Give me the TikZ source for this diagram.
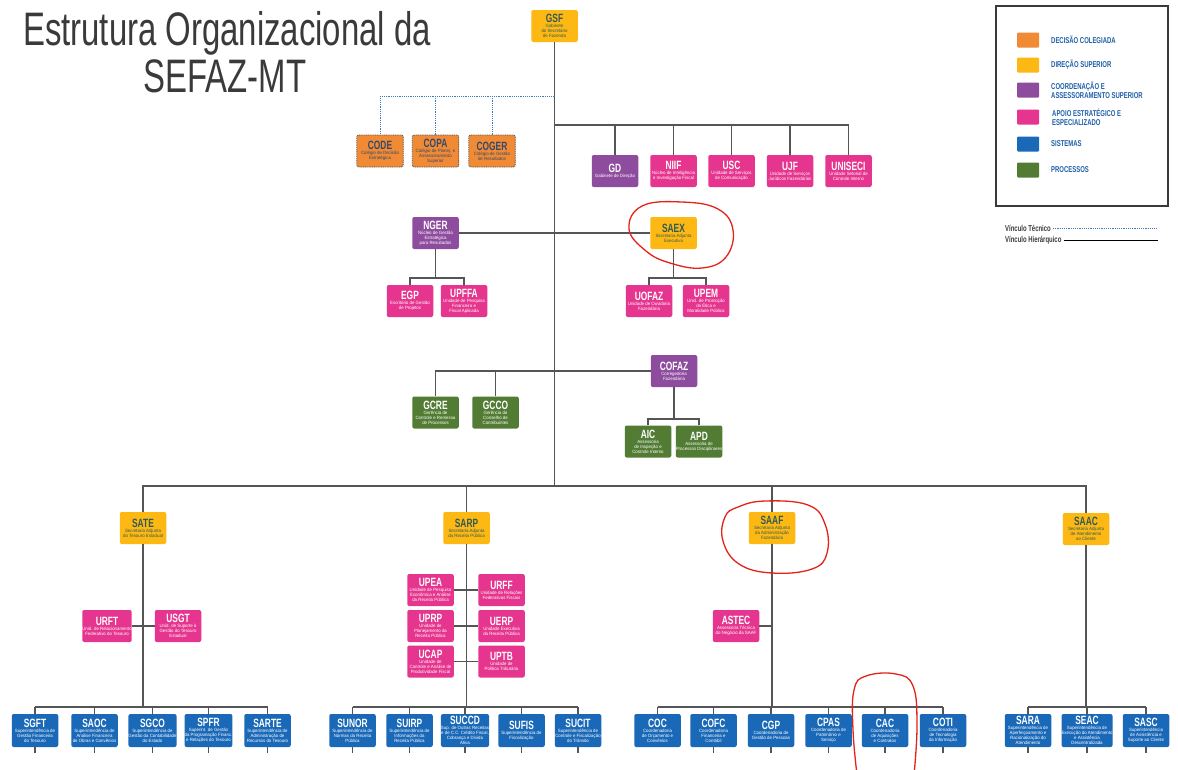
\documentclass[tikz,border=0pt]{standalone}
\usepackage{fontspec}
\setmainfont{Liberation Sans}[FakeStretch=0.7]
\newfontfamily\subf{Liberation Sans}[FakeStretch=0.95]
\usetikzlibrary{calc}
\definecolor{cgold}{HTML}{FDB813}
\definecolor{corange}{HTML}{F08A35}
\definecolor{cpurple}{HTML}{8E4C9E}
\definecolor{cpink}{HTML}{E6358E}
\definecolor{cblue}{HTML}{1A69B8}
\definecolor{cgreen}{HTML}{527C34}
\definecolor{cline}{HTML}{555555}
\definecolor{ctech}{HTML}{3C7BB8}
\definecolor{cgoldtxt}{HTML}{2F5B58}
\definecolor{corangetxt}{HTML}{34496B}
\definecolor{clegtxt}{HTML}{1F5FA8}
\definecolor{cred}{HTML}{E2231A}
\definecolor{ctitle}{HTML}{3A3A3A}
\newcommand\ttl[1]{{\rmfamily\bfseries\fontsize{12}{12}\selectfont #1}}
\tikzset{
  unit/.style={rectangle, rounded corners=2pt, minimum width=46.5, minimum height=32, inner sep=0pt, align=center, font=\subf\fontsize{4.6}{5}\selectfont, text=white},
  goldu/.style={unit, fill=cgold, text=cgoldtxt},
  orangeu/.style={unit, fill=corange, text=corangetxt, draw=cline, line width=0.8pt, dash pattern=on 1pt off 0.8pt},
  purpleu/.style={unit, fill=cpurple},
  pinku/.style={unit, fill=cpink},
  greenu/.style={unit, fill=cgreen},
  blueu/.style={unit, fill=cblue, minimum height=33},
  hier/.style={draw=cline, line width=1.15pt},
  tech/.style={draw=ctech, line width=1pt, dash pattern=on 1.2pt off 1pt},
  swatch/.style={rectangle, rounded corners=1pt, minimum width=22, minimum height=15, inner sep=0pt},
  leglab/.style={anchor=west, align=left, inner sep=0pt, text=clegtxt, font=\bfseries\fontsize{8.5}{9}\selectfont},
  vinc/.style={anchor=west, inner sep=0pt, text=ctitle, font=\bfseries\fontsize{8.5}{9}\selectfont},
  titletext/.style={anchor=base, inner sep=0pt, text=ctitle, font=\fontsize{47}{49}\selectfont},
  annot/.style={draw=cred, line width=1.3pt}
}
\begin{document}
\begin{tikzpicture}[x=1pt, y=-1pt]
\useasboundingbox[fill=white] (0,0) rectangle (1178,769);
\clip (0,0) rectangle (1178,769);

% Title
\node[titletext] (t1) at (227,45) {Estrutura Organizacional da};
\node[titletext] (t2) at (225,92) {SEFAZ-MT};

% Legend
\node[draw=ctitle, line width=1.2pt, minimum width=172, minimum height=200, inner sep=0pt] (legend) at (1082,106) {};
\node[swatch, fill=corange] (s1) at (1028,40) {};
\node[swatch, fill=cgold] (s2) at (1028,65) {};
\node[swatch, fill=cpurple] (s3) at (1028,90) {};
\node[swatch, fill=cpink] (s4) at (1028,117) {};
\node[swatch, fill=cblue] (s5) at (1028,144) {};
\node[swatch, fill=cgreen] (s6) at (1028,170) {};
\node[leglab] (l1) at (1051,40) {DECISÃO COLEGIADA};
\node[leglab] (l2) at (1051,65) {DIREÇÃO SUPERIOR};
\node[leglab] (l3) at (1051,90) {COORDENAÇÃO E\\ASSESSORAMENTO SUPERIOR};
\node[leglab] (l4) at (1052,117) {APOIO ESTRATÉGICO E\\ESPECIALIZADO};
\node[leglab] (l5) at (1051,144) {SISTEMAS};
\node[leglab] (l6) at (1051,170) {PROCESSOS};
\node[vinc] (vt) at (1005,228) {Vínculo Técnico};
\node[vinc] (vh) at (1005,240) {Vínculo Hierárquico};
\coordinate (vte) at (1157,228);
\coordinate (vhe) at (1158,240);
\draw[tech] ([xshift=2pt]vt.east) -- (vte);
\draw[draw=black, line width=0.9pt] ([xshift=2pt]vh.east) -- (vhe);

% Top level
\node[goldu] (gsf) at (554.5,26) {\ttl{GSF}\\Gabinete\\do Secretário\\de Fazenda};
\node[orangeu] (code) at (380,151) {\ttl{CODE}\\Colégio de Decisão\\Estratégica};
\node[orangeu] (copa) at (435.5,151) {\ttl{COPA}\\Colégio de Planej. e\\Assessoramento\\Superior};
\node[orangeu] (coger) at (492,151) {\ttl{COGER}\\Colégio de Gestão\\de Resultados};
\node[purpleu] (gd) at (615,171) {\ttl{GD}\\Gabinete de Direção};
\node[pinku] (niif) at (673.5,171) {\ttl{NIIF}\\Núcleo de Inteligência\\e Investigação Fiscal};
\node[pinku] (usc) at (731.5,171) {\ttl{USC}\\Unidade de Serviços\\de Comunicação};
\node[pinku] (ujf) at (790,171) {\ttl{UJF}\\Unidade de Serviços\\Jurídicos Fazendários};
\node[pinku] (uniseci) at (848.5,171) {\ttl{UNISECI}\\Unidade Setorial de\\Controle Interno};

\node[purpleu] (nger) at (435.5,233) {\ttl{NGER}\\Núcleo de Gestão\\Estratégica\\para Resultados};
\node[goldu] (saex) at (673.5,233) {\ttl{SAEX}\\Secretaria Adjunta\\Executiva};
\node[pinku] (egp) at (410,301) {\ttl{EGP}\\Escritório de Gestão\\de Projetos};
\node[pinku] (upffa) at (464,301) {\ttl{UPFFA}\\Unidade de Pesquisa\\Financeira e\\Fiscal Aplicada};
\node[pinku] (uofaz) at (649,301) {\ttl{UOFAZ}\\Unidade de Ouvidoria\\Fazendária};
\node[pinku] (upem) at (706,301) {\ttl{UPEM}\\Unid. de Promoção\\da Ética e\\Moralidade Pública};

\node[purpleu] (cofaz) at (674,371) {\ttl{COFAZ}\\Corregedoria\\Fazendária};
\node[greenu] (gcre) at (435.5,412.5) {\ttl{GCRE}\\Gerência de\\Controle e Remessa\\de Processos};
\node[greenu] (gcco) at (495.5,412.5) {\ttl{GCCO}\\Gerência do\\Conselho de\\Contribuintes};
\node[greenu] (aic) at (648,441.5) {\ttl{AIC}\\Assessoria\\de Inspeção e\\Controle Interno};
\node[greenu] (apd) at (699,441.5) {\ttl{APD}\\Assessoria de\\Processos Disciplinares};

% Secretarias adjuntas
\node[goldu] (sate) at (143,528) {\ttl{SATE}\\Secretaria Adjunta\\do Tesouro Estadual};
\node[goldu] (sarp) at (466.5,528) {\ttl{SARP}\\Secretaria Adjunta\\da Receita Pública};
\node[goldu] (saaf) at (772,528) {\ttl{SAAF}\\Secretaria Adjunta\\da Administração\\Fazendária};
\node[goldu] (saac) at (1086,529) {\ttl{SAAC}\\Secretaria Adjunta\\de Atendimento\\ao Cliente};

\node[pinku] (urft) at (107,626) {\ttl{URFT}\\Unid. de Relacionamento\\Federativo do Tesouro};
\node[pinku] (usgt) at (178,626) {\ttl{USGT}\\Unid. de Suporte à\\Gestão do Tesouro\\Estadual};
\node[pinku] (upea) at (430.5,590) {\ttl{UPEA}\\Unidade de Pesquisa\\Econômica e Análise\\da Receita Pública};
\node[pinku] (urff) at (501.5,590) {\ttl{URFF}\\Unidade de Relações\\Federativas Fiscais};
\node[pinku] (uprp) at (430.5,626) {\ttl{UPRP}\\Unidade de\\Planejamento da\\Receita Pública};
\node[pinku] (uerp) at (501.5,626) {\ttl{UERP}\\Unidade Executiva\\da Receita Pública};
\node[pinku] (ucap) at (430.5,661.5) {\ttl{UCAP}\\Unidade de\\Controle e Análise de\\Produtividade Fiscal};
\node[pinku] (uptb) at (501.5,661.5) {\ttl{UPTB}\\Unidade de\\Política Tributária};
\node[pinku] (astec) at (736,626) {\ttl{ASTEC}\\Assessoria Técnica\\do Negócio da SAAF};

% Bottom row
\node[blueu] (sgft) at (35,730.5) {\ttl{SGFT}\\Superintendência de\\Gestão Financeira\\do Tesouro};
\node[blueu] (saoc) at (94.5,730.5) {\ttl{SAOC}\\Superintendência de\\Análise Financeira\\de Obras e Convênios};
\node[blueu] (sgco) at (152.5,730.5) {\ttl{SGCO}\\Superintendência de\\Gestão da Contabilidade\\do Estado};
\node[blueu] (spfr) at (208.5,730.5) {\ttl{SPFR}\\Superint. de Gestão\\da Programação Financ.\\e Relações do Tesouro};
\node[blueu] (sarte) at (267.5,730.5) {\ttl{SARTE}\\Superintendência de\\Administração de\\Recursos do Tesouro};
\node[blueu] (sunor) at (352.5,730.5) {\ttl{SUNOR}\\Superintendência de\\Normas da Receita\\Pública};
\node[blueu] (suirp) at (409.5,730.5) {\ttl{SUIRP}\\Superintendência de\\Informações da\\Receita Pública};
\node[blueu] (succd) at (465,730.5) {\ttl{SUCCD}\\Sup. de Outras Receitas\\e de C.C. Crédito Fiscal,\\Cobrança e Dívida\\Ativa};
\node[blueu] (sufis) at (521.5,730.5) {\ttl{SUFIS}\\Superintendência de\\Fiscalização};
\node[blueu] (sucit) at (578,730.5) {\ttl{SUCIT}\\Superintendência de\\Controle e Fiscalização\\do Trânsito};
\node[blueu] (coc) at (657.5,730.5) {\ttl{COC}\\Coordenadoria\\de Orçamento e\\Convênios};
\node[blueu] (cofc) at (713.5,730.5) {\ttl{COFC}\\Coordenadoria\\Financeira e\\Contábil};
\node[blueu] (cgp) at (771,730.5) {\ttl{CGP}\\Coordenadoria de\\Gestão de Pessoas};
\node[blueu] (cpas) at (828.5,730.5) {\ttl{CPAS}\\Coordenadoria de\\Patrimônio e\\Serviço};
\node[blueu] (cac) at (885,730.5) {\ttl{CAC}\\Coordenadoria\\de Aquisições\\e Contratos};
\node[blueu] (coti) at (943,730.5) {\ttl{COTI}\\Coordenadoria\\de Tecnologia\\da Informação};
\node[blueu] (sara) at (1028,730.5) {\ttl{SARA}\\Superintendência de\\Aperfeiçoamento e\\Racionalização do\\Atendimento};
\node[blueu] (seac) at (1087,730.5) {\ttl{SEAC}\\Superintendência de\\Execução do Atendimento\\e Assistência\\Descentralizada};
\node[blueu] (sasc) at (1146,730.5) {\ttl{SASC}\\Superintendência\\de Assistência e\\Suporte ao Cliente};

% Bus coordinates
\coordinate (dashbus) at (554,96);
\coordinate (topbus) at (554,125);
\coordinate (ngbus) at (435,278);
\coordinate (sxbus) at (673,278);
\coordinate (cfbus) at (674,419);
\coordinate (bigbus) at (554,486);
\coordinate (botbus) at (0,707);

% Connectors: top
\draw[hier] (gsf.south) -- (gsf.south |- bigbus);
\draw[tech] (gsf.south |- dashbus) -- (code.north |- dashbus) -- (code.north);
\draw[tech] (copa.north |- dashbus) -- (copa.north);
\draw[tech] (coger.north |- dashbus) -- (coger.north);
\draw[hier] (gsf.south |- topbus) -- (uniseci.north |- topbus);
\foreach \n in {gd,niif,usc,ujf,uniseci} \draw[hier] (\n.north) -- (\n.north |- topbus);
\draw[hier] (nger.east) -- (saex.west);
\draw[hier] (nger.south) -- (nger.south |- ngbus);
\draw[hier] (egp.north) -- (egp.north |- ngbus) -- (upffa.north |- ngbus) -- (upffa.north);
\draw[hier] (saex.south) -- (saex.south |- sxbus);
\draw[hier] (uofaz.north) -- (uofaz.north |- sxbus) -- (upem.north |- sxbus) -- (upem.north);
\draw[hier] (cofaz.west) -- (gcre.north |- cofaz.west) -- (gcre.north);
\draw[hier] (gcco.north) -- (gcco.north |- cofaz.west);
\draw[hier] (cofaz.south) -- (cofaz.south |- cfbus);
\draw[hier] (aic.north) -- (aic.north |- cfbus) -- (apd.north |- cfbus) -- (apd.north);

% big bus
\draw[hier] (sate.north) -- (sate.north |- bigbus) -- (saac.north |- bigbus) -- (saac.north);
\draw[hier] (sarp.north) -- (sarp.north |- bigbus);
\draw[hier] (saaf.north) -- (saaf.north |- bigbus);

% trunks down
\foreach \n in {sate,sarp,saaf,saac} \draw[hier] (\n.south) -- (\n.south |- botbus);
\draw[hier] (urft.east) -- (usgt.west);
\draw[hier] (upea.east) -- (urff.west);
\draw[hier] (uprp.east) -- (uerp.west);
\draw[hier] (ucap.east) -- (uptb.west);
\draw[hier] (astec.east) -- (astec.east -| saaf.south);

% bottom buses
\draw[hier] (sgft.north |- botbus) -- (sarte.north |- botbus);
\draw[hier] (sunor.north |- botbus) -- (sucit.north |- botbus);
\draw[hier] (coc.north |- botbus) -- (coti.north |- botbus);
\draw[hier] (sara.north |- botbus) -- (sasc.north |- botbus);
\foreach \n in {sgft,saoc,sgco,spfr,sarte,sunor,suirp,succd,sufis,sucit,coc,cofc,cgp,cpas,cac,coti,sara,seac,sasc}
  \draw[hier] (\n.north) -- (\n.north |- botbus);
\foreach \n in {sgft,saoc,sgco,spfr,sarte,sunor,suirp,succd,sufis,sucit,cofc,cgp,cpas,cac,coti,sara,seac,sasc}
  \draw[hier] (\n.south) -- ++(0,6);

% red annotations
\draw[annot] plot[smooth cycle, tension=0.7] coordinates {(642,206) (682,202) (718,209) (733,230) (726,257) (702,268) (670,263) (646,251) (629,229)};
\draw[annot] plot[smooth cycle, tension=0.7] coordinates {(738,507) (765,501) (808,505) (825,524) (827,553) (812,569) (772,573) (739,564) (723,541) (725,517)};
\draw[annot] plot[smooth, tension=0.7] coordinates {(857,775) (853,730) (854,690) (866,676) (896,674) (913,686) (917,725) (914,775)};
\end{tikzpicture}
\end{document}
